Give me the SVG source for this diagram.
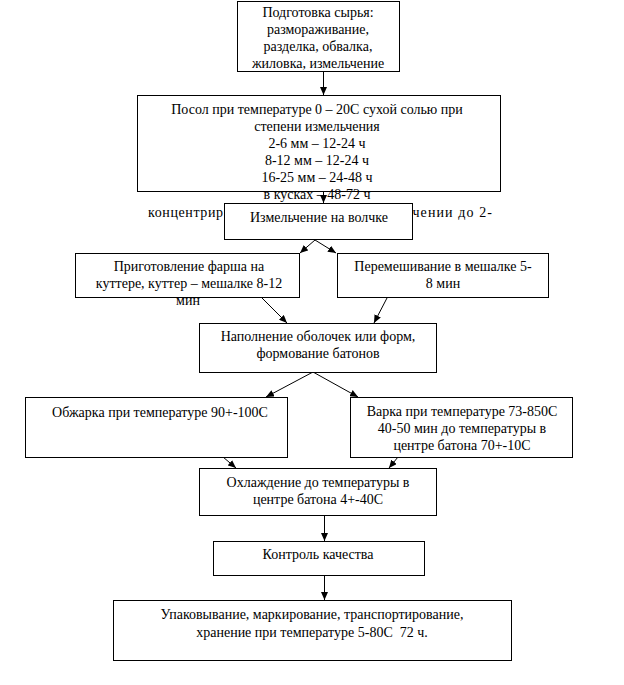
<svg xmlns="http://www.w3.org/2000/svg" width="624" height="685" viewBox="0 0 624 685">
<style>
.box{fill:#fff;stroke:#000;stroke-width:1}
.t{font-family:"Liberation Serif","Times New Roman",serif;font-size:14px;fill:#000;text-anchor:middle;white-space:pre}
.ts{font-family:"Liberation Serif","Times New Roman",serif;font-size:14px;fill:#000}
.c line{stroke:#000;stroke-width:1;marker-end:url(#ah)}
</style>
<defs>
<marker id="ah" markerUnits="userSpaceOnUse" markerWidth="9" markerHeight="7" refX="8" refY="3.5" orient="auto">
<path d="M0,0 L8,3.5 L0,7 z" fill="#000"/>
</marker>
</defs>
<rect width="624" height="685" fill="#fff"/>
<g id="n1">
<rect class="box" x="237.5" y="1.5" width="162" height="70"/>
<text class="t" x="318" y="17">Подготовка сырья:</text>
<text class="t" x="318" y="34">размораживание,</text>
<text class="t" x="318" y="51">разделка, обвалка,</text>
<text class="t" x="318" y="68">жиловка, измельчение</text>
</g>
<g id="n2">
<rect class="box" x="137.5" y="95.5" width="363" height="96"/>
<text class="t" x="317" y="114">Посол при температуре 0 – 20С сухой солью при</text>
<text class="t" x="317" y="131">степени измельчения</text>
<text class="t" x="317" y="148">2-6 мм – 12-24 ч</text>
<text class="t" x="317" y="165">8-12 мм – 12-24 ч</text>
<text class="t" x="317" y="182">16-25 мм – 24-48 ч</text>
<text class="t" x="317" y="199">в кусках – 48-72 ч</text>
<text class="ts" x="148" y="217" textLength="75">концентрир</text>
<text class="ts" x="406" y="217" textLength="86">ьчении до 2-</text>
</g>
<g class="c" id="connectors">
<line x1="323.5" y1="72" x2="323.5" y2="95"/>
<line x1="323.5" y1="192" x2="323.5" y2="203"/>
<line x1="315" y1="240" x2="300" y2="253"/>
<line x1="315" y1="240" x2="336" y2="253"/>
<line x1="262" y1="298" x2="287" y2="323"/>
<line x1="387" y1="298" x2="374" y2="323"/>
<line x1="313" y1="372" x2="266" y2="397"/>
<line x1="313" y1="372" x2="358" y2="397"/>
<line x1="223" y1="457" x2="236" y2="468"/>
<line x1="398" y1="457" x2="389" y2="468"/>
<line x1="324.5" y1="516" x2="324.5" y2="541"/>
<line x1="324.5" y1="576" x2="324.5" y2="600"/>
</g>
<g id="n3">
<rect class="box" x="224.5" y="203.5" width="188" height="36"/>
<text class="t" x="319" y="222">Измельчение на волчке</text>
</g>
<g id="n4">
<rect class="box" x="75.5" y="253.5" width="224" height="44"/>
<text class="t" x="189" y="271">Приготовление фарша на</text>
<text class="t" x="189" y="288">куттере, куттер – мешалке 8-12</text>
<text class="t" x="188" y="305">мин</text>
</g>
<g id="n5">
<rect class="box" x="337.5" y="253.5" width="211" height="44"/>
<text class="t" x="443" y="271">Перемешивание в мешалке 5-</text>
<text class="t" x="443" y="288">8 мин</text>
</g>
<g id="n6">
<rect class="box" x="199.5" y="323.5" width="237" height="49"/>
<text class="t" x="318" y="341">Наполнение оболочек или форм,</text>
<text class="t" x="318" y="358">формование батонов</text>
</g>
<g id="n7">
<rect class="box" x="25.5" y="397.5" width="262" height="60"/>
<text class="t" x="160" y="417">Обжарка при температуре 90+-100С</text>
</g>
<g id="n8">
<rect class="box" x="350.5" y="397.5" width="222" height="60"/>
<text class="t" x="462" y="416">Варка при температуре 73-850С</text>
<text class="t" x="462" y="433">40-50 мин до температуры в</text>
<text class="t" x="462" y="450">центре батона 70+-10С</text>
</g>
<g id="n9">
<rect class="box" x="199.5" y="468.5" width="237" height="47"/>
<text class="t" x="318" y="487">Охлаждение до температуры в</text>
<text class="t" x="318" y="504">центре батона 4+-40С</text>
</g>
<g id="n10">
<rect class="box" x="213.5" y="541.5" width="211" height="34"/>
<text class="t" x="318" y="559">Контроль качества</text>
</g>
<g id="n11">
<rect class="box" x="113.5" y="600.5" width="398" height="60"/>
<text class="t" x="312" y="619">Упаковывание, маркирование, транспортирование,</text>
<text class="t" x="312" y="637">хранение при температуре 5-80С  72 ч.</text>
</g>
</svg>
